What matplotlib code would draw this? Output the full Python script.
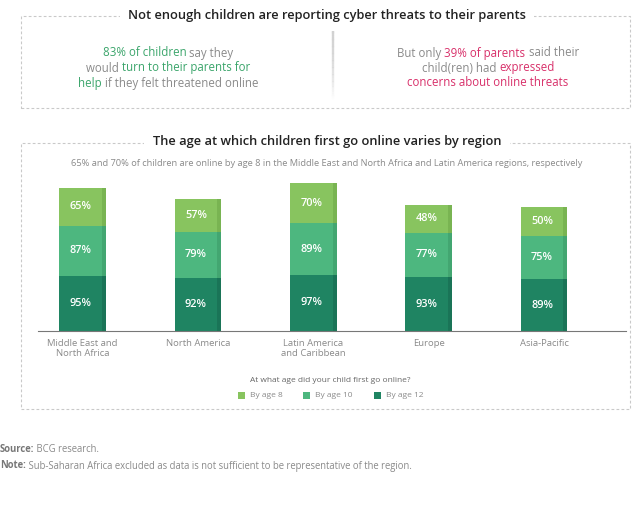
import matplotlib
matplotlib.use("Agg")
import matplotlib.pyplot as plt
from matplotlib.patches import Rectangle
from matplotlib.lines import Line2D
import numpy as np

plt.rcParams['font.family'] = ['Open Sans', 'DejaVu Sans']

regions = ["Middle East and\nNorth Africa", "North America", "Latin America\nand Caribbean", "Europe", "Asia-Pacific"]
by_age_12 = [95, 92, 97, 93, 89]
by_age_10 = [87, 79, 89, 77, 75]
by_age_8 = [65, 57, 70, 48, 50]
series_names = ["By age 8", "By age 10", "By age 12"]

c8, c10, c12 = "#88C45F", "#4DB77F", "#1F8462"
d8, d10, d12 = "#79B452", "#43A671", "#1A7457"
gray = "#8a8a8a"
green_txt = "#3BA56B"
pink_txt = "#D8306A"

W, H = 640, 505
fig = plt.figure(figsize=(6.4, 5.05), dpi=100)

def fx(px): return px / W
def fy(py): return 1 - py / H

# Dashed boxes
for (x0, y0, x1, y1) in [(21, 16, 630, 108), (21, 143, 630, 409)]:
    fig.add_artist(Rectangle((fx(x0), fy(y1)), fx(x1) - fx(x0), fy(y0) - fy(y1),
                             transform=fig.transFigure, fill=False, ec="#c9c9c9",
                             lw=0.8, ls=(0, (2.5, 2))))

# Titles with white background to break the box border
fig.text(fx(327), fy(16), "Not enough children are reporting cyber threats to their parents",
         ha="center", va="center", fontsize=9.3, fontweight="semibold", color="#222222",
         bbox=dict(fc="white", ec="none", pad=6))
fig.text(fx(327), fy(142), "The age at which children first go online varies by region",
         ha="center", va="center", fontsize=9.3, fontweight="semibold", color="#222222",
         bbox=dict(fc="white", ec="none", pad=6))

# divider
n = 40
ys = np.linspace(28, 98, n + 1)
for i in range(n):
    a = 0.9 * (1 - i / n)
    fig.add_artist(Line2D([fx(333), fx(333)], [fy(ys[i]), fy(ys[i + 1])],
                          transform=fig.transFigure, color="#d2d2d2", alpha=a, lw=1.6))

renderer = fig.canvas.get_renderer()

def rich_line(cx, py, parts, fs=8.3):
    texts = []
    widths = []
    for s, col, bold in parts:
        t = fig.text(0, fy(py), s, color=col, fontsize=fs, va="center", ha="left",
                     fontweight="medium" if bold else "normal")
        texts.append(t)
        widths.append(t.get_window_extent(renderer).width)
    total = sum(widths)
    x = cx - total / 2
    for t, w in zip(texts, widths):
        t.set_x(fx(x))
        x += w

rich_line(168, 53, [("83% of children", green_txt, True), (" say they", gray, False)])
rich_line(168, 68, [("would ", gray, False), ("turn to their parents for", green_txt, True)])
rich_line(168, 83, [("help", green_txt, True), (" if they felt threatened online", gray, False)])

rich_line(488, 53, [("But only ", gray, False), ("39% of parents", pink_txt, True), (" said their", gray, False)])
rich_line(488, 68, [("child(ren) had ", gray, False), ("expressed", pink_txt, True)])
rich_line(488, 83, [("concerns about online threats", pink_txt, True)])

fig.text(fx(327), fy(163),
         "65% and 70% of children are online by age 8 in the Middle East and North Africa and Latin America regions, respectively",
         ha="center", va="center", fontsize=6.65, color=gray)

# Bar axes
ax_left, ax_right = 38, 626
base_py = 331
scale = 0.579  # px per unit
ymax = 280
ax = fig.add_axes([fx(ax_left), fy(base_py), fx(ax_right) - fx(ax_left), ymax * scale / H])
x = np.arange(len(regions))
bw = 0.405
sw = 0.035
b12 = np.array(by_age_12)
b10 = np.array(by_age_10)
b8 = np.array(by_age_8)
bottoms = [np.zeros(len(x)), b12, b12 + b10]
for vals, bot, c, d in [(b12, bottoms[0], c12, d12), (b10, bottoms[1], c10, d10), (b8, bottoms[2], c8, d8)]:
    ax.bar(x, vals, bw, bottom=bot, color=c, lw=0)
    ax.bar(x + bw / 2 - sw / 2, vals, sw, bottom=bot, color=d, lw=0)
    for xi, v, b in zip(x, vals, bot):
        ax.text(xi - sw / 2, b + v / 2, f"{v}%", ha="center", va="center", color="white",
                fontsize=7.8, fontweight="semibold")

ax.set_xlim(-0.386, 4.71)
ax.set_ylim(0, ymax)
for s in ["top", "right", "left"]:
    ax.spines[s].set_visible(False)
ax.spines["bottom"].set_color("#777777")
ax.spines["bottom"].set_linewidth(0.8)
ax.set_yticks([])
ax.set_xticks(x)
ax.set_xticklabels(regions, fontsize=6.8, color=gray, linespacing=1.15)
ax.tick_params(axis="x", length=0, pad=6)

# Legend
fig.text(fx(330), fy(380), "At what age did your child first go online?", ha="center", va="center",
         fontsize=6.0, color="#666666")
leg_items = [(241, series_names[0], c8), (306, series_names[1], c10), (377, series_names[2], c12)]
for px, lab, c in leg_items:
    fig.add_artist(Rectangle((fx(px - 3.5), fy(399)), fx(7), 7 / H, transform=fig.transFigure,
                             color=c, lw=0))
    fig.text(fx(px + 9), fy(395.5), lab, ha="left", va="center", fontsize=6, color=gray)

# Footnotes
rich = [(450, "Source:", " BCG research."),
        (466, "Note:", " Sub-Saharan Africa excluded as data is not sufficient to be representative of the region.")]
for py, a, b in rich:
    t = fig.text(0, fy(py), a, fontsize=6.85, fontweight="bold", color="#777777", va="center")
    w = t.get_window_extent(renderer).width
    fig.text(fx(w), fy(py), b, fontsize=6.85, color=gray, va="center")

fig.savefig("out.png", dpi=100)
